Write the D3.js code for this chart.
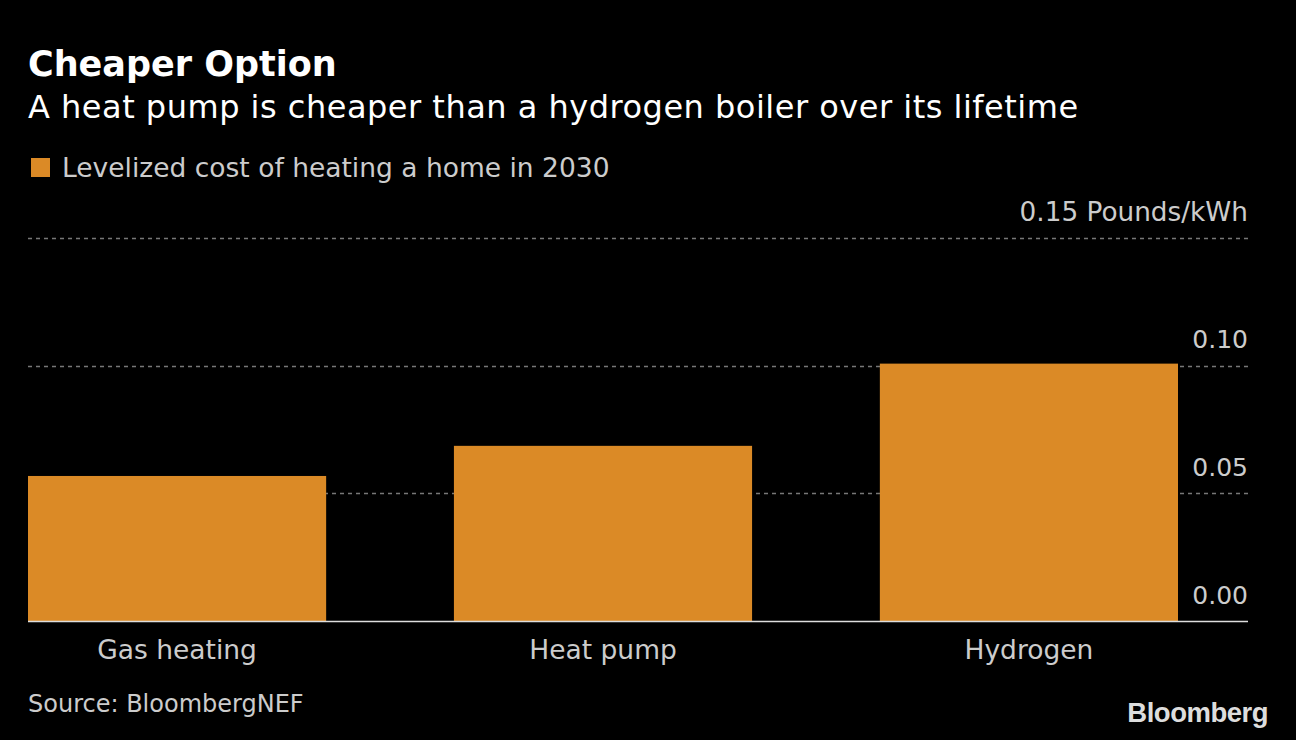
<!DOCTYPE html>
<html><head><meta charset="utf-8">
<script src="https://cdn.jsdelivr.net/npm/d3@7"></script>
<style>
html,body{margin:0;padding:0;background:#000;}
svg{display:block;}
text{font-family:"DejaVu Sans",sans-serif;}
</style></head>
<body>
<svg id="chart" width="1296" height="740"></svg>
<script>
const categories = ["Gas heating", "Heat pump", "Hydrogen"];
const values = [0.0568, 0.0686, 0.1008];
const yTicks = [0, 0.05, 0.10, 0.15];
const tickLabels = ["0.00", "0.05", "0.10", "0.15 Pounds/kWh"];
const title = "Cheaper Option";
const subtitle = "A heat pump is cheaper than a hydrogen boiler over its lifetime";
const legendLabel = "Levelized cost of heating a home in 2030";
const source = "Source: BloombergNEF";

const svg = d3.select("#chart");
const W = 1296, H = 740;
svg.append("rect").attr("width", W).attr("height", H).attr("fill", "#000");

const left = 28, right = 1248, barsRight = 1178;
const y = d3.scaleLinear().domain([0, 0.15]).range([621, 238]);
const x = d3.scaleBand().domain(categories).range([left, barsRight]).paddingInner(0.3).paddingOuter(0);

const barColor = "#db8a26";

svg.append("text").attr("x", 28).attr("y", 76).attr("fill", "#fff")
  .attr("font-size", 35).attr("font-weight", "bold").text(title);
svg.append("text").attr("x", 28).attr("y", 118).attr("fill", "#fff")
  .attr("font-size", 32).style("letter-spacing", "0.5px").text(subtitle);

svg.append("rect").attr("x", 31).attr("y", 158).attr("width", 19).attr("height", 19).attr("fill", barColor);
svg.append("text").attr("x", 62).attr("y", 177).attr("fill", "#ccc").attr("font-size", 26.5).text(legendLabel);

// grid
const grid = svg.append("g");
grid.selectAll("line").data(yTicks.filter(d => d > 0)).join("line")
  .attr("x1", left).attr("x2", right)
  .attr("y1", d => Math.round(y(d)) + 0.5).attr("y2", d => Math.round(y(d)) + 0.5)
  .attr("stroke", "#777").attr("stroke-width", 1.5).attr("stroke-dasharray", "4,4");

// bars
svg.append("g").selectAll("rect").data(categories).join("rect")
  .attr("x", d => x(d)).attr("width", x.bandwidth())
  .attr("y", (d, i) => y(values[i])).attr("height", (d, i) => y(0) - y(values[i]))
  .attr("fill", barColor);

// baseline
svg.append("line").attr("x1", left).attr("x2", right).attr("y1", y(0) + 0.5).attr("y2", y(0) + 0.5)
  .attr("stroke", "#ddd").attr("stroke-width", 1.5);

// y labels
const yAxis = d3.axisRight(y).tickValues(yTicks).tickSize(0).tickFormat((d, i) => tickLabels[i]);
const ya = svg.append("g").attr("transform", `translate(${right},0)`).call(yAxis);
ya.select(".domain").remove();
ya.selectAll("text").attr("x", 0).attr("dy", -18).attr("text-anchor", "end")
  .attr("fill", "#ccc").attr("font-size", (d, i) => i === 3 ? 26.3 : 25)
  .style("font-family", '"DejaVu Sans",sans-serif');

// x labels
const xAxis = d3.axisBottom(x).tickSize(0);
const xa = svg.append("g").attr("transform", `translate(0,${y(0)})`).call(xAxis);
xa.select(".domain").remove();
xa.selectAll("text").attr("y", 38).attr("dy", 0).attr("fill", "#ccc").attr("font-size", 26.5)
  .style("font-family", '"DejaVu Sans",sans-serif');

svg.append("text").attr("x", 28).attr("y", 712).attr("fill", "#ccc").attr("font-size", 24).text(source);
svg.append("text").attr("x", 1268).attr("y", 722).attr("text-anchor", "end").attr("fill", "#ddd")
  .attr("font-size", 27.5).attr("font-weight", "bold").style("font-family", '"Liberation Sans",Arial,sans-serif').style("letter-spacing", "-0.5px").text("Bloomberg");
</script>
</body></html>
